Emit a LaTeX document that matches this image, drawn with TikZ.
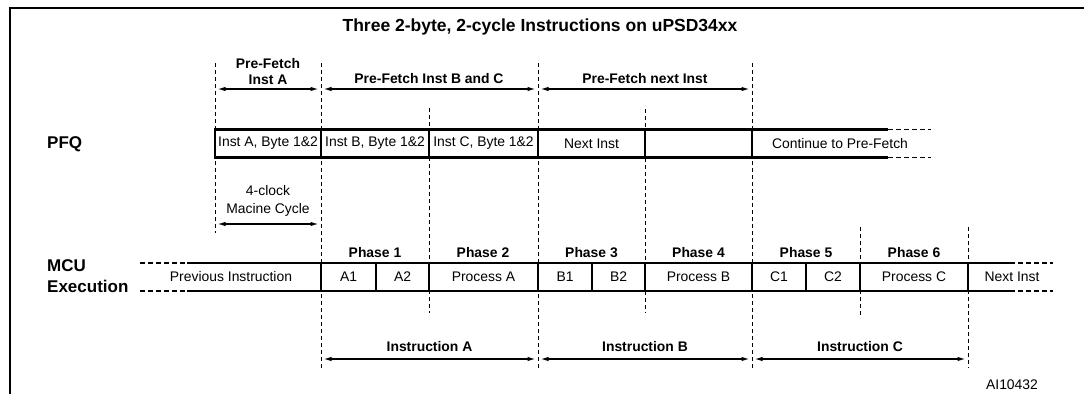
\documentclass[tikz,border=0pt]{standalone}
\usepackage{fontspec}
\setmainfont{Liberation Sans}
\usetikzlibrary{arrows.meta}
\tikzset{
  frame/.style={line width=2.4pt},
  vdash/.style={line width=0.9pt, dash pattern=on 4pt off 3pt},
  hdash/.style={line width=1.2pt, dash pattern=on 5pt off 3pt},
  boxline/.style={line width=2.2pt},
  cell/.style={draw, line width=2.2pt, minimum height=28pt, inner sep=0pt, outer sep=0pt, font=\fontsize{13.9}{16}\selectfont},
  opencell/.style={inner sep=0pt, font=\fontsize{13.9}{16}\selectfont},
  dim/.style={line width=1.3pt, {Latex[length=8pt,width=4.5pt]}-{Latex[length=8pt,width=4.5pt]}, shorten <=2.5pt, shorten >=2.5pt},
  blab/.style={font=\bfseries\fontsize{13.9}{16}\selectfont, inner sep=0pt},
  rlab/.style={font=\fontsize{13.9}{18}\selectfont, inner sep=0pt},
  biglab/.style={font=\bfseries\fontsize{17}{21}\selectfont, inner sep=0pt, align=left, anchor=west},
  title/.style={font=\bfseries\fontsize{17.5}{20}\selectfont, inner sep=0pt}
}
\begin{document}
\begin{tikzpicture}[x=1pt, y=-1pt]
\useasboundingbox (0,0) rectangle (1084,394);
% frame
\draw[frame] (10,394) -- (10,8) -- (1084,8);
\node[title] (ttl) at (540,27) {Three 2-byte, 2-cycle Instructions on uPSD34xx};

% dashed verticals
\foreach \n/\x/\ya/\yb in {a/215/63/233, b/321/63/368, c/429/108/313, d/538/63/368, e/645/109/313, f/752/63/368, g/860/227/315, h/968/227/368}{
  \coordinate (\n top) at (\x,\ya);
  \coordinate (\n bot) at (\x,\yb);
  \draw[vdash] (\n top) -- (\n bot);
}

% top dimension arrows
\coordinate (ta) at (215,89); \coordinate (tb) at (321,89);
\coordinate (td) at (538,89); \coordinate (tf) at (752,89);
\draw[dim] (ta) -- (tb);
\draw[dim] (tb) -- (td);
\draw[dim] (td) -- (tf);
\node[blab, align=center] (pfa) at (268,72) {Pre-Fetch\\Inst A};
\node[blab] (pfbc) at (429,79) {Pre-Fetch Inst B and C};
\node[blab] (pfn) at (645,79) {Pre-Fetch next Inst};

% PFQ row
\node[biglab] (pfq) at (47,144) {PFQ};
\node[cell, minimum width=106pt] (pA) at (268,143.5) {Inst A, Byte 1\&2};
\node[cell, minimum width=108pt] (pB) at (375,143.5) {Inst B, Byte 1\&2};
\node[cell, minimum width=109pt] (pC) at (483.5,143.5) {Inst C, Byte 1\&2};
\node[cell, minimum width=107pt] (pN) at (591.5,143.5) {Next Inst};
\node[cell, minimum width=107pt] (pE) at (698.5,143.5) {};
\node[opencell] (pCont) at (840,143.5) {Continue to Pre-Fetch};
\coordinate (pc1) at (888,0); \coordinate (pc2) at (931,0);
\draw[boxline] (pE.north east) -- (pE.north east -| pc1);
\draw[boxline] (pE.south east) -- (pE.south east -| pc1);
\draw[hdash] (pE.north east -| pc1) -- (pE.north east -| pc2);
\draw[hdash] (pE.south east -| pc1) -- (pE.south east -| pc2);

% machine cycle
\node[rlab, align=center] (mc) at (268,201) {4-clock\\Macine Cycle};
\coordinate (ma) at (215,224); \coordinate (mb) at (321,224);
\draw[dim] (ma) -- (mb);

% MCU row
\node[biglab] (mcu) at (47,276.5) {MCU\\Execution};
\foreach \n/\x in {1/375, 2/483, 3/591.5, 4/698.5, 5/806, 6/914}{
  \node[blab] (ph\n) at (\x,253) {Phase \n};
}
\node[opencell] (prev) at (231,277) {Previous Instruction};
\node[cell, minimum width=55pt] (A1) at (348.5,277) {A1};
\node[cell, minimum width=53pt] (A2) at (402.5,277) {A2};
\node[cell, minimum width=109pt] (PA) at (483.5,277) {Process A};
\node[cell, minimum width=54pt] (B1) at (565,277) {B1};
\node[cell, minimum width=53pt] (B2) at (618.5,277) {B2};
\node[cell, minimum width=107pt] (PB) at (698.5,277) {Process B};
\node[cell, minimum width=54pt] (C1) at (779,277) {C1};
\node[cell, minimum width=54pt] (C2) at (833,277) {C2};
\node[cell, minimum width=108pt] (PC) at (914,277) {Process C};
\node[opencell] (nxt) at (1012,277) {Next Inst};
\coordinate (ml0) at (140,0); \coordinate (ml1) at (187,0);
\coordinate (mr1) at (1010,0); \coordinate (mr2) at (1053,0);
\draw[hdash] (A1.north west -| ml0) -- (A1.north west -| ml1);
\draw[hdash] (A1.south west -| ml0) -- (A1.south west -| ml1);
\draw[boxline] (A1.north west -| ml1) -- (A1.north west);
\draw[boxline] (A1.south west -| ml1) -- (A1.south west);
\draw[boxline] (PC.north east) -- (PC.north east -| mr1);
\draw[boxline] (PC.south east) -- (PC.south east -| mr1);
\draw[hdash] (PC.north east -| mr1) -- (PC.north east -| mr2);
\draw[hdash] (PC.south east -| mr1) -- (PC.south east -| mr2);

% bottom instruction arrows
\coordinate (ib) at (321,359); \coordinate (id) at (538,359);
\coordinate (if) at (752,359); \coordinate (ih) at (968,359);
\draw[dim] (ib) -- (id);
\draw[dim] (id) -- (if);
\draw[dim] (if) -- (ih);
\node[blab] (iA) at (429.5,347) {Instruction A};
\node[blab] (iB) at (645,347) {Instruction B};
\node[blab] (iC) at (860,347) {Instruction C};

\node[rlab] (ai) at (1012,385) {AI10432};
\end{tikzpicture}
\end{document}
